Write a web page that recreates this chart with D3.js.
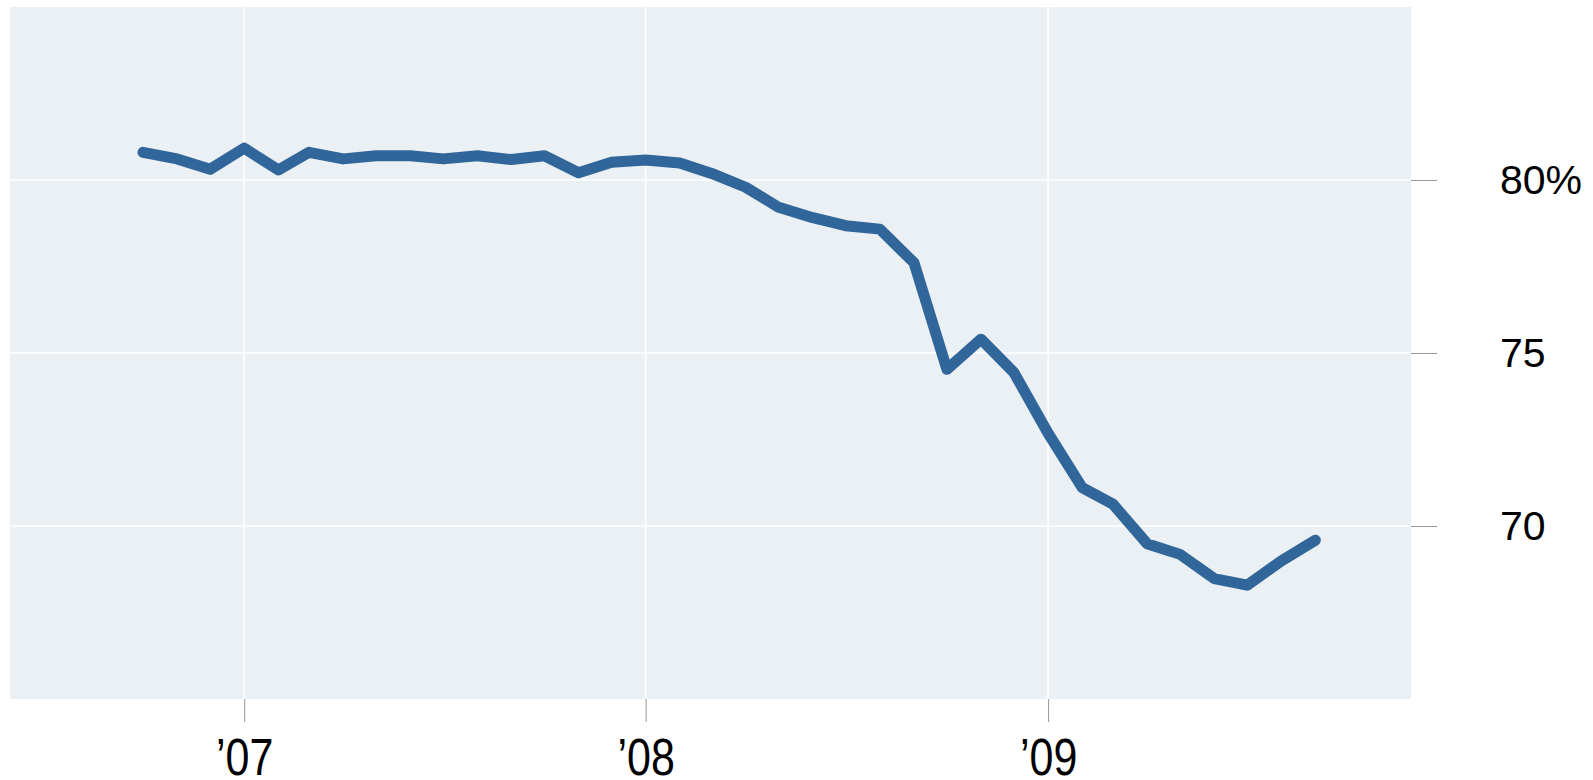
<!DOCTYPE html>
<html>
<head>
<meta charset="utf-8">
<script src="https://cdn.jsdelivr.net/npm/d3@7"></script>
<style>
  html, body { margin: 0; padding: 0; background: #fff; }
  svg { display: block; }
</style>
</head>
<body>
<script>
// monthly values, Oct 2006 .. Sep 2009
const months = [
  '2006-10', '2006-11', '2006-12',
  '2007-01', '2007-02', '2007-03', '2007-04', '2007-05', '2007-06',
  '2007-07', '2007-08', '2007-09', '2007-10', '2007-11', '2007-12',
  '2008-01', '2008-02', '2008-03', '2008-04', '2008-05', '2008-06',
  '2008-07', '2008-08', '2008-09', '2008-10', '2008-11', '2008-12',
  '2009-01', '2009-02', '2009-03', '2009-04', '2009-05', '2009-06',
  '2009-07', '2009-08', '2009-09'
];
const values = [
  80.80, 80.61, 80.31,
  80.92, 80.29, 80.80, 80.61, 80.70, 80.70,
  80.61, 80.70, 80.59, 80.70, 80.21, 80.51,
  80.58, 80.49, 80.19, 79.79, 79.21, 78.91,
  78.68, 78.58, 77.61, 74.53, 75.40, 74.43,
  72.68, 71.11, 70.63, 69.49, 69.18, 68.48,
  68.29, 68.99, 69.59
];
const xTicks = ['2007-01', '2008-01', '2009-01'];
const xTickLabels = ['\u201907', '\u201908', '\u201909'];
const yTicks = [70, 75, 80];
const yTickLabels = ['70', '75', '80%'];

const width = 1593, height = 780;
const panel = { left: 10, right: 1411, top: 7, bottom: 699 };

const parse = d3.timeParse('%Y-%m');
const data = months.map((m, i) => ({ date: parse(m), value: values[i] }));

const svg = d3.select('body').append('svg')
  .attr('width', width)
  .attr('height', height);

const x = d3.scaleTime()
  .domain([new Date(2006, 5, 2), new Date(2009, 10, 27)])
  .range([panel.left, panel.right]);

const y = d3.scaleLinear()
  .domain([65, 85])
  .range([panel.bottom, panel.top]);

// panel background
svg.append('rect')
  .attr('x', panel.left)
  .attr('y', panel.top)
  .attr('width', panel.right - panel.left)
  .attr('height', panel.bottom - panel.top)
  .style('fill', '#ebf0f4');

// grid
const grid = svg.append('g');
grid.selectAll('line.h')
  .data(yTicks)
  .join('line')
  .attr('x1', panel.left).attr('x2', panel.right)
  .attr('y1', d => y(d)).attr('y2', d => y(d))
  .style('stroke', '#fff').style('stroke-width', 1.5);
grid.selectAll('line.v')
  .data(xTicks.map(parse))
  .join('line')
  .attr('y1', panel.top).attr('y2', panel.bottom)
  .attr('x1', d => x(d)).attr('x2', d => x(d))
  .style('stroke', '#fff').style('stroke-width', 1.5);

// axes
const yAxis = d3.axisRight(y)
  .tickValues(yTicks)
  .tickSize(26)
  .tickPadding(63)
  .tickFormat((d, i) => yTickLabels[i]);

const gy = svg.append('g')
  .attr('transform', `translate(${panel.right},0)`)
  .call(yAxis);
gy.select('.domain').remove();
gy.selectAll('.tick line').style('stroke', '#999').style('stroke-width', 1);
gy.selectAll('.tick text')
  .attr('font-family', 'Liberation Sans, Arial, sans-serif')
  .attr('font-size', 41)
  .attr('fill', '#000')
  .attr('dy', '0.34em');

const xAxis = d3.axisBottom(x)
  .tickValues(xTicks.map(parse))
  .tickSize(23)
  .tickFormat((d, i) => xTickLabels[i]);

const gx = svg.append('g')
  .attr('transform', `translate(0,${panel.bottom})`)
  .call(xAxis);
gx.select('.domain').remove();
gx.selectAll('.tick line').style('stroke', '#999').style('stroke-width', 1);
gx.selectAll('.tick text')
  .attr('font-family', 'Liberation Sans, Arial, sans-serif')
  .attr('font-size', 43)
  .attr('fill', '#000')
  .attr('y', 0)
  .attr('dy', 0)
  .attr('transform', 'translate(0,76) scale(1,1.21)');

// line
const line = d3.line()
  .x(d => x(d.date))
  .y(d => y(d.value));

svg.append('path')
  .datum(data)
  .attr('d', line)
  .style('fill', 'none')
  .style('stroke', '#31669a')
  .style('stroke-width', 11)
  .style('stroke-linejoin', 'round')
  .style('stroke-linecap', 'round');
</script>
</body>
</html>
